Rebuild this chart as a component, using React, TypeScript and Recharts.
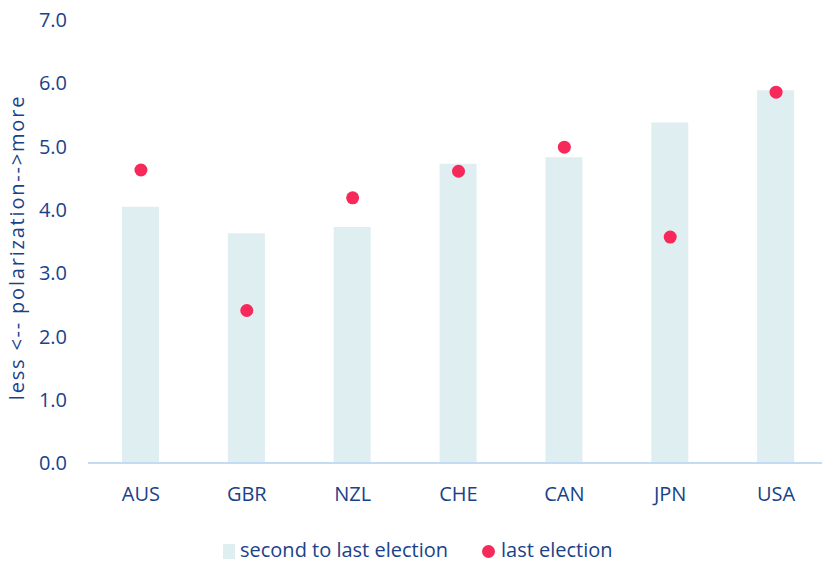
import React from "react";
import { ComposedChart, Bar, Line, XAxis, YAxis, Legend } from "recharts";

const countries = ["AUS", "GBR", "NZL", "CHE", "CAN", "JPN", "USA"];
const secondToLast = [4.05, 3.63, 3.73, 4.73, 4.83, 5.38, 5.89];
const lastElection = [4.63, 2.41, 4.19, 4.61, 4.99, 3.57, 5.86];
const yTicks = [0, 1, 2, 3, 4, 5, 6, 7];

const data = countries.map((c, i) => ({
  country: c,
  prev: secondToLast[i],
  last: lastElection[i],
}));

const TEXT = "#1A428A";
const BAR = "#DFEEF1";
const DOT = "#F7285A";
const FONT = "'Open Sans', sans-serif";

const LegendContent = () => (
  <div style={{ position: "relative", width: 822, height: 50, fontFamily: FONT, fontSize: 20, color: TEXT }}>
    <div style={{ position: "absolute", left: 223, top: 31, width: 12, height: 15, background: BAR }} />
    <div style={{ position: "absolute", left: 240, top: 25, lineHeight: "24px", whiteSpace: "nowrap" }}>second to last election</div>
    <div style={{ position: "absolute", left: 481.5, top: 31.5, width: 13, height: 13, borderRadius: "50%", background: DOT }} />
    <div style={{ position: "absolute", left: 501, top: 25, lineHeight: "24px", whiteSpace: "nowrap" }}>last election</div>
  </div>
);

export default function App() {
  return (
    <div style={{ position: "absolute", left: 0, top: 0, width: 822, height: 563, overflow: "hidden", background: "#fff" }}>
      <ComposedChart
        width={830}
        height={563}
        data={data}
        margin={{ top: 20, right: 1, bottom: 0, left: 0 }}
        style={{ fontFamily: FONT }}
      >
        <XAxis
          dataKey="country"
          height={50}
          tickLine={false}
          tickMargin={18}
          axisLine={{ stroke: "#C3DBF3", strokeWidth: 2 }}
          tick={{ fill: TEXT, fontSize: 20, fontFamily: FONT }}
          interval={0}
        />
        <YAxis
          width={88}
          domain={[0, 7]}
          ticks={yTicks}
          tickFormatter={(v: number) => v.toFixed(1)}
          axisLine={false}
          tickLine={false}
          tickMargin={15}
          tick={{ fill: TEXT, fontSize: 20, fontFamily: FONT }}
          label={{
            value: "less <-- polarization-->more",
            angle: -90,
            position: "center",
            dx: -27,
            dy: 6,
            fill: TEXT,
            fontSize: 20,
            fontFamily: FONT,
            letterSpacing: 1.8,
          }}
        />
        <Legend
          verticalAlign="bottom"
          height={50}
          content={<LegendContent />}
          wrapperStyle={{ position: "absolute", top: 513, left: 0, bottom: "auto", width: 822, height: 50, margin: 0, padding: 0 }}
        />
        <Bar dataKey="prev" name="second to last election" fill={BAR} barSize={37} isAnimationActive={false} />
        <Line
          dataKey="last"
          name="last election"
          stroke="none"
          strokeWidth={0}
          dot={{ r: 6.5, fill: DOT, stroke: "none" }}
          activeDot={false}
          isAnimationActive={false}
        />
      </ComposedChart>
    </div>
  );
}
